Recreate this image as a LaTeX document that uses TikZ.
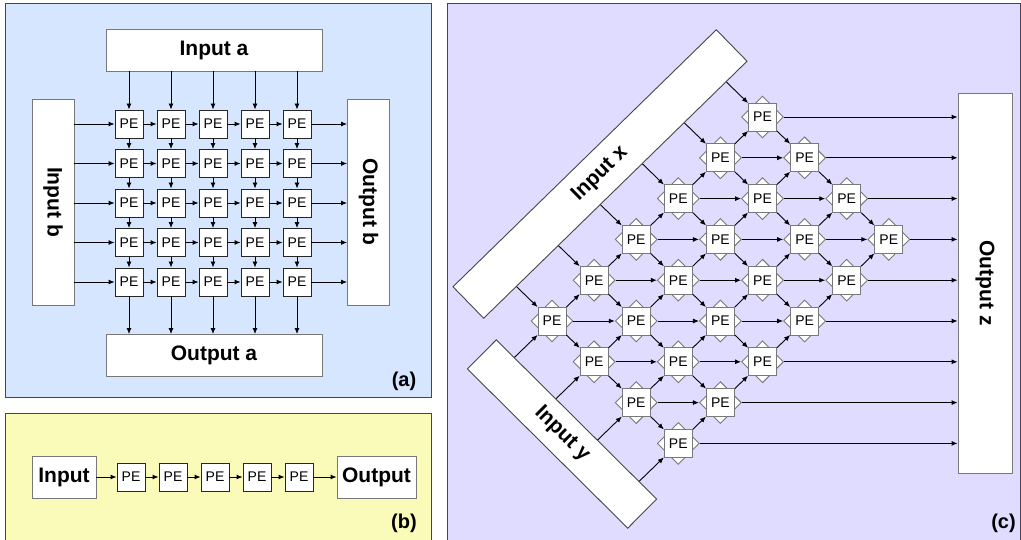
\documentclass[tikz,border=0pt]{standalone}
\usepackage{fontspec}
\setmainfont{Liberation Sans}
\usetikzlibrary{arrows.meta, shapes.geometric}

\definecolor{bluepanel}{RGB}{214,230,255}
\definecolor{yellowpanel}{RGB}{250,250,185}
\definecolor{lilacpanel}{RGB}{224,220,255}
\definecolor{boxline}{RGB}{120,120,120}
\definecolor{panelline}{RGB}{70,70,70}

\tikzset{-{Latex[length=6pt, width=5pt]},
	panel/.style = {draw = panelline, -},
	box/.style = {draw = boxline, fill = white, inner sep = 0pt, font = \bfseries\fontsize{21}{25}\selectfont},
	pe/.style = {draw = black!85, fill = white, minimum size = 28pt, inner sep = 0pt, font = \fontsize{14}{16}\selectfont},
	tab/.style = {diamond, draw = boxline, fill = white, minimum width = 42pt, minimum height = 42pt, inner sep = 0pt},
	tag/.style = {font = \bfseries\fontsize{20}{24}\selectfont}}

\begin{document}
\begin{tikzpicture}[x = 1pt, y = -1pt, line width = 0.9pt]
	
	\useasboundingbox (0, 0) rectangle (1021, 540);
	
	% panels
	\path[panel, fill = bluepanel] (5, 3) rectangle (431, 397);
	\path[panel, fill = yellowpanel] (5, 413) rectangle (431, 542);
	\path[panel, fill = lilacpanel] (447, 3) rectangle (1020, 542);
	
	% (a) 5x5 array
	\node[box, minimum width = 216pt, minimum height = 42pt] (ina) at (214, 50) {Input a};
	\node[box, minimum width = 216pt, minimum height = 42pt] (outa) at (214, 355.5) {Output a};
	\node[box, minimum width = 206pt, minimum height = 42pt, rotate = -90] (inb) at (53, 202) {Input b};
	\node[box, minimum width = 206pt, minimum height = 42pt, rotate = -90] (outb) at (368.5, 202) {Output b};
	
	\foreach \r in {1,...,5}
		\foreach \c in {1,...,5}
			\node[pe] (a\r\c) at ({129 + 42*(\c - 1)}, {124 + 39.5*(\r - 1)}) {PE};
	
	\foreach \c in {1,...,5} {
		\path (ina.south -| a1\c) edge (a1\c);
		\path (a5\c) edge (a5\c |- outa.north);
		\path (inb.north |- a\c1) edge (a\c1);
		\path (a\c5) edge (a\c5 -| outb.south);
	}
	\foreach \r/\rr in {1/2, 2/3, 3/4, 4/5}
		\foreach \c in {1,...,5} {
			\path (a\r\c) edge (a\rr\c);
			\path (a\c\r) edge (a\c\rr);
		}
	
	\node[tag] (la) at (404, 381) {(a)};
	
	% (b) linear array
	\node[box, minimum width = 64pt, minimum height = 42pt] (inp) at (64, 477) {Input};
	\node[box, minimum width = 79pt, minimum height = 42pt] (outp) at (376.5, 477) {Output};
	\foreach \c in {1,...,5}
		\node[pe] (b\c) at ({131 + 42*(\c - 1)}, 477) {PE};
	
	\path (inp) edge (b1);
	\foreach \c/\cc in {1/2, 2/3, 3/4, 4/5}
		\path (b\c) edge (b\cc);
	\path (b5) edge (outp);
	
	\node[tag] (lb) at (404, 523) {(b)};
	
	% (c) hexagonal array, cell (m,n) sits at m steps up-right and n steps down-right
	\node[box, minimum width = 380pt, minimum height = 54pt, rotate = -90] (outz) at (985, 283) {Output z};
	
	\foreach \m in {0,...,5}
		\foreach \n in {0,...,3} {
			\node[tab] (tab-\m-\n) at ({552 + 42.1*(\m + \n)}, {321 + 40.8*(\n - \m)}) {};
			\node[pe, draw = boxline] (pe-\m-\n) at (tab-\m-\n) {PE};
		}
	
	% up-right
	\foreach \m/\mm in {0/1, 1/2, 2/3, 3/4, 4/5}
		\foreach \n in {0,...,3}
			\path (pe-\m-\n) edge (pe-\mm-\n);
	% down-right
	\foreach \m in {0,...,5}
		\foreach \n/\nn in {0/1, 1/2, 2/3}
			\path (pe-\m-\n) edge (pe-\m-\nn);
	% straight across
	\foreach \m/\mm in {0/1, 1/2, 2/3, 3/4, 4/5}
		\foreach \n/\nn in {0/1, 1/2, 2/3}
			\path (tab-\m-\n) edge (tab-\mm-\nn);
	
	\foreach \m/\n in {5/0, 5/1, 5/2, 5/3, 4/3, 3/3, 2/3, 1/3, 0/3}
		\path (tab-\m-\n) edge (tab-\m-\n -| outz.south);
	
	% feeds start under the input bars
	\foreach \m in {0,...,5} {
		\coordinate (fx-\m) at ({552 + 42.1*(\m - 1)}, {321 - 40.8*(\m + 1)});
		\path (fx-\m) edge (pe-\m-0);
	}
	\foreach \n in {0,...,3} {
		\coordinate (fy-\n) at ({552 + 42.1*(\n - 1)}, {321 + 40.8*(\n + 1)});
		\path (fy-\n) edge (pe-0-\n);
	}
	
	\node[box, draw = panelline, minimum width = 368pt, minimum height = 44pt, rotate = 44.3] (inx) at (600, 174) {Input x};
	\node[box, draw = panelline, minimum width = 226pt, minimum height = 41pt, rotate = -44.8] (iny) at (562, 434) {Input y};
	
	\node[tag] (lc) at (1003.5, 523) {(c)};
	
\end{tikzpicture}
\end{document}
